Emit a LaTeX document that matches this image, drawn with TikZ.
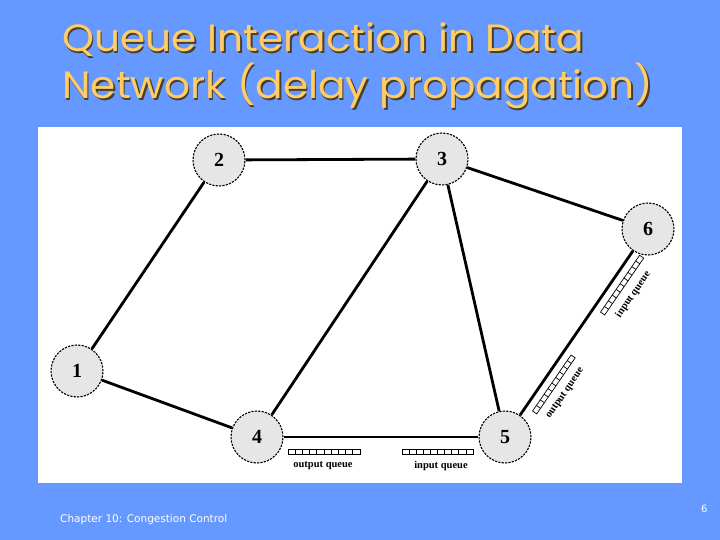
\documentclass[tikz,border=0pt]{standalone}
\usepackage{fontspec}
\setmainfont{Liberation Serif}
\newfontfamily\titlefont{Poppins}
\newfontfamily\footfont{DejaVu Sans}
\definecolor{SlideClr}{HTML}{6699FF}
\definecolor{TitleClr}{HTML}{FFCC66}
\definecolor{ShadowClr}{HTML}{4A3F2A}
\definecolor{NodeClr}{HTML}{E6E6E6}

\begin{document}
\begin{tikzpicture}[x=1pt,y=-1pt,
  router/.style={circle,draw=black,fill=NodeClr,line width=1.1pt,
    dash pattern=on 2.2pt off 1.2pt,minimum size=52pt,inner sep=0pt,
    font=\fontsize{20}{20}\selectfont\bfseries},
  link/.style={line width=2.8pt,black},
  qbox/.style={line width=0.7pt},
  qlabel/.style={font=\fontsize{10.5}{10.5}\selectfont\bfseries,inner sep=0pt},
  headline/.style={anchor=base west,inner sep=0pt,xscale=1.07,transform shape,
    font=\titlefont\fontsize{38}{38}\selectfont}]

\fill[SlideClr] (0,0) rectangle (720,540);
\fill[white] (38,127) rectangle (682,483);

% title, with its shadow
\node[headline,ShadowClr] (t1s) at (63.5,53.5) {Queue Interaction in Data};
\node[headline,ShadowClr] (t2s) at (63.5,100.5) {Network (delay propagation)};
\node[headline,TitleClr] (t1) at (62,52) {Queue Interaction in Data};
\node[headline,TitleClr] (t2) at (62,99) {Network (delay propagation)};

% routers
\node[router] (N1) at (77,371) {1};
\node[router] (N2) at (219,160) {2};
\node[router] (N3) at (442,159) {3};
\node[router] (N4) at (257,437) {4};
\node[router] (N5) at (505,437) {5};
\node[router] (N6) at (648,229) {6};

\draw[link] (N1) -- (N2);
\draw[link] (N2) -- (N3);
\draw[link] (N3) -- (N6);
\draw[link] (N3) -- (N4);
\draw[link] (N3) -- (N5);
\draw[link] (N1) -- (N4);
\draw[link] (N4) -- (N5);
\draw[link] (N5) -- (N6);

% queues on link 4-5
\begin{scope}[shift={(N4.center)}]
\draw[qbox] (31,12) rectangle (103,17);
\foreach \i in {1,...,9} \draw[qbox] ({31+\i*7.2},12) -- ++(0,5);
\node[qlabel] (oq45) at (66,29) {output queue};
\end{scope}
\begin{scope}[shift={(N5.center)}]
\draw[qbox] (-103,12) rectangle (-32,17);
\foreach \i in {1,...,9} \draw[qbox] ({-103+\i*7.1},12) -- ++(0,5);
\node[qlabel] (iq45) at (-64,29) {input queue};
\end{scope}

% queues on link 5-6
\begin{scope}[shift={(N5.center)},rotate=55.5,transform shape]
\draw[qbox] (37,8) rectangle (105,13);
\foreach \i in {1,...,9} \draw[qbox] ({37+\i*6.8},8) -- ++(0,5);
\node[qlabel] (oq56) at (70,25) {output queue};
\draw[qbox] (157,8) rectangle (226,13);
\foreach \i in {1,...,9} \draw[qbox] ({157+\i*6.9},8) -- ++(0,5);
\node[qlabel] (iq56) at (190,25) {input queue};
\end{scope}

% footer
\node[anchor=base west,inner sep=0pt,white,font=\footfont\fontsize{10.5}{10.5}\selectfont] (foot) at (60,522) {Chapter 10: Congestion Control};
\node[anchor=base west,inner sep=0pt,white,font=\footfont\fontsize{10}{10}\selectfont] (page) at (701,512) {6};
\end{tikzpicture}
\end{document}
